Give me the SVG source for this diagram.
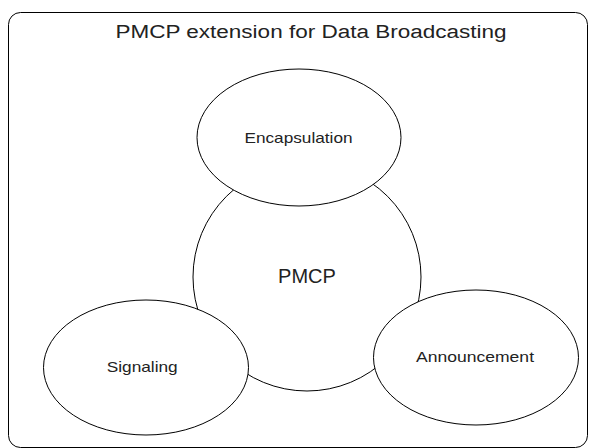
<svg xmlns="http://www.w3.org/2000/svg" width="589" height="448" viewBox="0 0 589 448">
<style>
.frame{fill:#ffffff;stroke:#000000;stroke-width:1}
.shape{fill:#ffffff;stroke:#000000;stroke-width:1}
.lbl{font-family:"Liberation Sans",Arial,sans-serif;fill:#222222;text-anchor:middle}
</style>
<rect width="589" height="448" fill="#ffffff"/>
<g id="frame">
<rect class="frame" x="8.5" y="12.5" width="579" height="435" rx="12" ry="12"/>
<text class="lbl" x="311" y="38" font-size="18" textLength="391" lengthAdjust="spacingAndGlyphs">PMCP extension for Data Broadcasting</text>
</g>
<g id="connectors"></g>
<g id="pmcp">
<circle class="shape" cx="307" cy="277" r="114"/>
<text class="lbl" x="307" y="282.5" font-size="20">PMCP</text>
</g>
<g id="encapsulation">
<ellipse class="shape" cx="299" cy="137.5" rx="102" ry="68.5"/>
<text class="lbl" x="298.5" y="143.3" font-size="15" textLength="108" lengthAdjust="spacingAndGlyphs">Encapsulation</text>
</g>
<g id="signaling">
<ellipse class="shape" cx="146" cy="367.5" rx="102.5" ry="67.5"/>
<text class="lbl" x="142.2" y="371.7" font-size="15" textLength="71" lengthAdjust="spacingAndGlyphs">Signaling</text>
</g>
<g id="announcement">
<ellipse class="shape" cx="476" cy="357.5" rx="102.5" ry="67.5"/>
<text class="lbl" x="475" y="361.7" font-size="15" textLength="118" lengthAdjust="spacingAndGlyphs">Announcement</text>
</g>
</svg>
